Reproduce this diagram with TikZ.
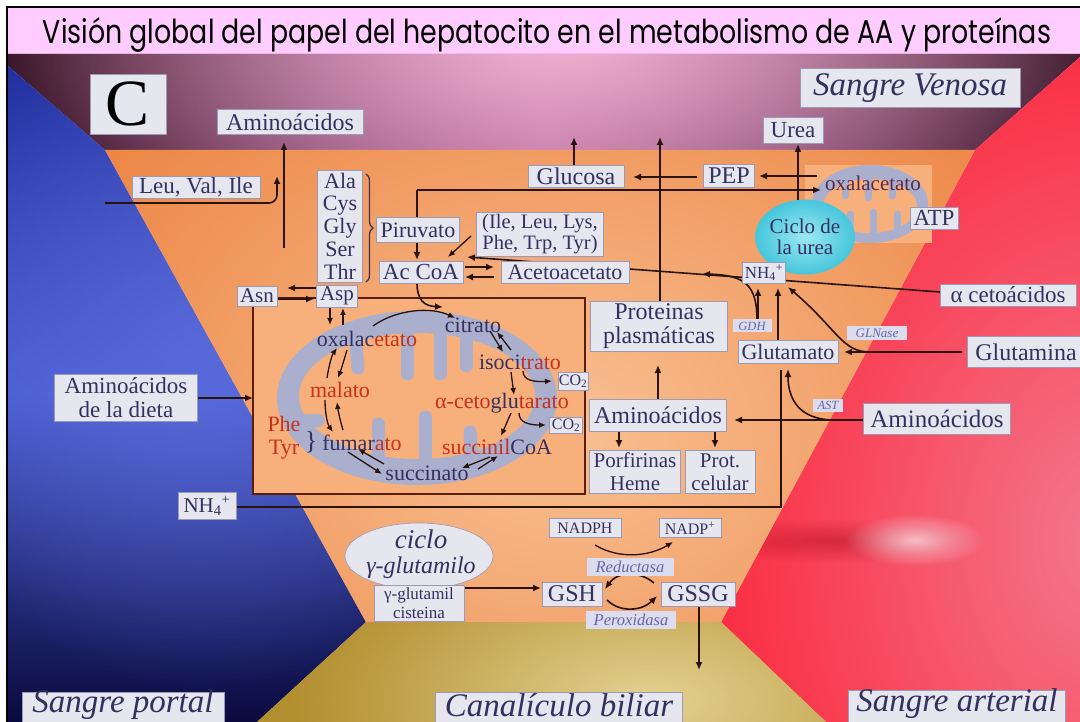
\documentclass[tikz,border=0pt]{standalone}
\usepackage{fontspec}
\setmainfont{Liberation Serif}
\newfontfamily\titlefont{Poppins}
\usetikzlibrary{arrows.meta,calc,fadings,shapes.geometric,decorations.pathreplacing}

\newcommand\fsz[2]{\fontsize{#1pt}{#2pt}\selectfont}

% palette
\definecolor{titlepink}{HTML}{FFCCFF}
\definecolor{venDark}{HTML}{2B0A1C}
\definecolor{venMid}{HTML}{A8558E}
\definecolor{venGlow}{HTML}{F0B2D2}
\definecolor{porTop}{HTML}{22309E}
\definecolor{porMid}{HTML}{4A5ED2}
\definecolor{porBot}{HTML}{0A0A3E}
\definecolor{porGlow}{HTML}{6070E0}
\definecolor{artRed}{HTML}{FD1A30}
\definecolor{artPink}{HTML}{F28A9E}
\definecolor{artDark}{HTML}{A8081A}
\definecolor{bileGold}{HTML}{B28E2E}
\definecolor{bileGlow}{HTML}{E4D292}
\definecolor{hepOrange}{HTML}{EC8240}
\definecolor{hepLight}{HTML}{F9C194}
\definecolor{roomfill}{HTML}{F7B07C}
\definecolor{roomline}{HTML}{5A1E0E}
\definecolor{mitogray}{HTML}{A9AFCC}
\definecolor{boxfill}{HTML}{E6E6EF}
\definecolor{boxline}{HTML}{9A9AB6}
\definecolor{enzfill}{HTML}{DCDCEE}
\definecolor{enzink}{HTML}{6666A6}
\definecolor{ink}{HTML}{34305F}
\definecolor{tcared}{HTML}{C6301F}
\definecolor{wirecol}{HTML}{28130F}
\definecolor{cyanIn}{HTML}{9CE8F2}
\definecolor{cyanOut}{HTML}{46C6DC}
\definecolor{oxbrown}{HTML}{5A2A4A}

\tikzfading[name=glow, inner color=transparent!0, outer color=transparent!100]

\tikzset{
  bx/.style={draw=boxline, line width=0.6pt, fill=boxfill, text=ink, inner sep=1pt, align=center},
  enz/.style={fill=enzfill, text=enzink, inner sep=1pt, font=\itshape\fsz{12.5}{13}},
  tca/.style={inner sep=0pt, font=\fsz{22}{23}, align=center},
  wireline/.style={draw=wirecol, line width=1.6pt},
  arr/.style={wireline, -{Latex[length=8pt,width=7pt]}},
  sarr/.style={draw=wirecol, line width=1.3pt, -{Latex[length=7pt,width=6pt]}},
  crista/.style={draw=mitogray, line cap=round},
  place/.style={text=ink, inner sep=0pt, font=\itshape\fsz{33}{33}},
}

\begin{document}
\begin{tikzpicture}[x=1pt,y=-1pt]
\useasboundingbox (0,0) rectangle (1080,722);
\fill[white] (0,0) rectangle (1080,722);

% ---------- title band ----------
\fill[titlepink] (8,8) rectangle (1080,54);

% ---------- blood compartments ----------
% venous blood (top)
\shade[left color=venDark, right color=venDark, middle color=venMid]
  (8,54) -- (1080,54) -- (1080,57) -- (975,150) -- (105,150) -- (8,66) -- cycle;
\begin{scope}
  \clip (8,54) -- (1080,54) -- (1080,57) -- (975,150) -- (105,150) -- (8,66) -- cycle;
  \fill[venGlow, path fading=glow] (560,40) ellipse [x radius=600, y radius=240];
\end{scope}

% portal blood (left)
\shade[top color=porTop, bottom color=porBot, middle color=porMid]
  (8,66) -- (105,150) -- (366,622) -- (257,722) -- (8,722) -- cycle;
\begin{scope}
  \clip (8,66) -- (105,150) -- (366,622) -- (257,722) -- (8,722) -- cycle;
  \fill[porGlow, opacity=0.7, path fading=glow] (200,350) ellipse [x radius=300, y radius=340];
\end{scope}

% arterial blood (right)
\fill[artRed] (1080,57) -- (975,150) -- (721,622) -- (826,722) -- (1080,722) -- cycle;
\begin{scope}
  \clip (1080,57) -- (975,150) -- (721,622) -- (826,722) -- (1080,722) -- cycle;
  \fill[artPink, opacity=0.85, path fading=glow] (1110,540) ellipse [x radius=500, y radius=640];
  \fill[artDark, opacity=0.45, path fading=glow] (835,541) ellipse [x radius=150, y radius=22];
  \fill[white!55!artPink, opacity=0.9, path fading=glow] (915,540) ellipse [x radius=70, y radius=26];
\end{scope}

% bile canaliculus (bottom)
\fill[bileGold] (366,622) -- (721,622) -- (826,722) -- (257,722) -- cycle;
\begin{scope}
  \clip (366,622) -- (721,622) -- (826,722) -- (257,722) -- cycle;
  \fill[bileGlow, path fading=glow] (650,700) ellipse [x radius=360, y radius=170];
\end{scope}

% hepatocyte (centre)
\fill[hepOrange] (105,150) -- (975,150) -- (721,622) -- (366,622) -- cycle;
\begin{scope}
  \clip (105,150) -- (975,150) -- (721,622) -- (366,622) -- cycle;
  \fill[hepLight, path fading=glow] (560,430) ellipse [x radius=620, y radius=480];
\end{scope}

% frame
\draw[black, line width=2.4pt] (7,722) -- (7,7) -- (1080,7);

\node[inner sep=0pt, text=black] (title) at (547,35)
  {\resizebox{1008pt}{26pt}{\titlefont Visión global del papel del hepatocito en el metabolismo de AA y proteínas}};

% ---------- mitochondrial matrix compartment ----------
\node[draw=roomline, line width=1.4pt, fill=roomfill, minimum width=332pt,
      minimum height=196pt, inner sep=0pt] (matrixbox) at (419,396) {};
\fill[mitogray] (417,398) ellipse [x radius=140, y radius=87];
\fill[roomfill] (417,396) ellipse [x radius=118, y radius=63];
\begin{scope}[crista, line width=13pt]
  \draw (355,333) -- (358,368);
  \draw (407,330) -- (407,374);
  \draw (440,330) -- (440,374);
  \draw (466,333) -- (466,366);
  \draw (378,466) -- (378,424);
  \draw (425,468) -- (425,417);
  \draw (472,462) -- (470,432);
  \draw (292,420) -- (318,420);
\end{scope}

% small mitochondrion near the urea cycle
\node[fill=roomfill, minimum width=127pt, minimum height=78pt, inner sep=0pt] (mitoR) at (868.5,204) {};
\fill[mitogray] (870,204) ellipse [x radius=58, y radius=39];
\fill[roomfill] (870,206) ellipse [x radius=47, y radius=27];
\begin{scope}[crista, line width=7pt]
  \draw (845,182) -- (845,196);
  \draw (868,180) -- (868,198);
  \draw (892,182) -- (892,196);
  \draw (850,231) -- (850,214);
  \draw (873,233) -- (873,212);
  \draw (897,230) -- (897,214);
\end{scope}

\node[ellipse, inner color=cyanIn, outer color=cyanOut, minimum width=90pt, minimum height=75pt,
      text=ink, font=\fsz{21}{21}, align=center, inner sep=0pt] (ureaCycle) at (805,237) {Ciclo de\\la urea};

% ---------- free ends of connectors ----------
\coordinate (aaFoot) at (284,248);
\coordinate (aaHead) at (284,142);
\coordinate (leuIn) at (105,203);
\coordinate (leuHead) at (277,176);
\coordinate (upHead) at (574,137);
\coordinate (ureaFoot) at (798,200);
\coordinate (oxOut) at (817,176);
\coordinate (pyrCorner) at (417,190);
\coordinate (oxIn) at (821,190);
\coordinate (ileTail) at (471,236);
\coordinate (ileHead) at (448,257);
\coordinate (ketoHead) at (467,257);
\coordinate (gdhFoot) at (757,320);
\coordinate (gdhHead) at (702,274);
\coordinate (nhA) at (758,288);
\coordinate (nhB) at (778,288);
\coordinate (nhC) at (788,287);
\coordinate (glnJoin) at (870,352);
\coordinate (astJoin) at (832,420);
\coordinate (astHead) at (788,369);
\coordinate (porfHead) at (619,448);
\coordinate (protcelHead) at (715,448);
\coordinate (gluDrop) at (781,370);
\coordinate (gluCorner) at (781,507);
\coordinate (cistOut) at (464,588);
\coordinate (gshIn) at (541,588);

% ---------- connectors ----------
\draw[arr] (aaFoot) -- (aaHead);
\draw[arr, rounded corners=8pt] (leuIn) -| (leuHead);
\draw[arr] (574,165) -- (upHead);
\draw[arr] (660,301) -- (660,137);
\draw[arr] (ureaFoot) -- (798,144);
\draw[arr] (oxOut) -- (759,176);
\draw[arr] (697,177) -- (633,177);
\draw[arr] (pyrCorner) -- (oxIn);
\draw[arr] (pyrCorner) -- (pyrCorner |- 0,260);
\draw[sarr] (ileTail) -- (ileHead);
\draw[arr] (465,267) -- (494,267);
\draw[arr] (494,277) -- (465,277);
\draw[arr] (940,292) -- (ketoHead);
\draw[arr] (gdhFoot) .. controls (757,285) and (745,275) .. (gdhHead);
\draw[arr] (758,320) -- (nhA);
\draw[arr] (778,340) -- (nhB);
\draw[arr] (glnJoin) .. controls (842,352) and (838,330) .. (nhC);
\draw[arr] (962,352) -- (844,352);
\draw[arr] (astJoin) .. controls (800,419) and (788,400) .. (astHead);
\draw[arr] (864,420) -- (734,420);
\draw[arr] (658,399) -- (658,365);
\draw[arr] (porfHead |- 0,431) -- (porfHead);
\draw[arr] (protcelHead |- 0,431) -- (protcelHead);
\draw[wireline] (gluDrop) -- (gluCorner) -- (236,507);
\draw[arr] (198,398) -- (253,398);
\draw[arr] (316,288) -- (287,288);
\draw[arr] (278,299) -- (314,299);
\draw[sarr] (330,308) -- (330,325);
\draw[sarr] (343,325) -- (343,308);
\draw[arr] (417,283) .. controls (417,300) and (424,306) .. (443,307);

% Krebs cycle
\draw[sarr] (373,326) .. controls (395,310) and (430,306) .. (455,318);
\draw[sarr] (490,331) -- (503,352);
\draw[sarr] (511,350) -- (497,332);
\draw[sarr] (511,372) -- (514,395);
\draw[sarr] (523,371) .. controls (523,381) and (535,382) .. (552,381);
\draw[sarr] (511,413) -- (501,436);
\draw[sarr] (519,413) .. controls (519,423) and (530,425) .. (546,425);
\draw[sarr] (490,457) -- (462,468);
\draw[sarr] (478,469) -- (498,456);
\draw[sarr] (348,452) -- (382,474);
\draw[sarr] (384,464) -- (358,449);
\draw[sarr] (325,400) .. controls (325,415) and (328,425) .. (333,432);
\draw[sarr] (343,430) .. controls (340,420) and (338,410) .. (337,402);
\draw[sarr] (327,378) .. controls (329,365) and (332,355) .. (337,348);
\draw[sarr] (347,350) .. controls (344,360) and (341,370) .. (338,378);

% glutathione
\draw[arr] (cistOut) -- (gshIn);
\draw[arr] (654,583) .. controls (640,571) and (618,571) .. (605,589);
\draw[arr] (607,600) .. controls (620,613) and (642,611) .. (657,596);
\draw[sarr] (595,545) .. controls (620,560) and (650,556) .. (673,542);
\draw[arr] (699,606) -- (699,670);

% ---------- labels ----------
\node[bx, minimum width=76pt, minimum height=60pt, font=\fsz{66}{66}, text=black] (letterC) at (128,104) {C};
\node[bx, minimum width=146pt, minimum height=25pt, font=\fsz{24}{25}] (aaTop) at (290,122) {Aminoácidos};
\node[bx, minimum width=220pt, minimum height=39pt, font=\itshape\fsz{33}{33}] (venosa) at (910,88) {Sangre Venosa};
\node[bx, minimum width=60pt, minimum height=26pt, font=\fsz{23}{24}] (urea) at (793,130) {Urea};
\node[bx, minimum width=128pt, minimum height=22pt, font=\fsz{23}{24}] (leu) at (196,187) {Leu, Val, Ile};
\node[bx, minimum width=45pt, minimum height=112pt, font=\fsz{22}{22.8}] (alaList) at (340,226) {Ala\\Cys\\Gly\\Ser\\Thr};
\draw[ink, line width=1.2pt, decorate, decoration={brace, amplitude=7pt}] (366,174) -- (366,282);
\node[bx, minimum width=83pt, minimum height=25pt, font=\fsz{22}{23}] (piruvato) at (418,230) {Piruvato};
\node[bx, minimum width=127pt, minimum height=44pt, font=\fsz{20.5}{20.5}] (ileList) at (540,234) {(Ile, Leu, Lys,\\Phe, Trp, Tyr)};
\node[bx, minimum width=84pt, minimum height=22pt, font=\fsz{23}{24}] (acCoA) at (421,272) {Ac CoA};
\node[bx, minimum width=128pt, minimum height=22pt, font=\fsz{22}{23}] (acetoac) at (565,272) {Acetoacetato};
\node[bx, minimum width=40pt, minimum height=20pt, font=\fsz{21}{22}] (asn) at (257,296) {Asn};
\node[bx, minimum width=41pt, minimum height=22pt, font=\fsz{21}{22}] (asp) at (337,296) {Asp};
\node[bx, minimum width=96pt, minimum height=22pt, font=\fsz{24}{25}] (glucosa) at (576,176) {Glucosa};
\node[bx, minimum width=51pt, minimum height=23pt, font=\fsz{24}{25}] (pep) at (729,176) {PEP};
\node[text=oxbrown, font=\fsz{21}{22}, inner sep=0pt] (oxR) at (873,183) {oxalacetato};
\node[bx, minimum width=48pt, minimum height=22pt, font=\fsz{23}{24}] (atp) at (934,218) {ATP};
\node[bx, minimum width=43pt, minimum height=21pt, font=\fsz{17}{18}] (nhTop) at (764,273) {NH\textsubscript{4}\textsuperscript{+}};
\node[bx, minimum width=136pt, minimum height=22pt, font=\fsz{23}{24}] (ceto) at (1008,295) {α cetoácidos};
\node[bx, minimum width=137pt, minimum height=50pt, font=\fsz{24}{24}] (prot) at (659,326) {Proteinas\\plasmáticas};
\node[enz, minimum width=39pt, minimum height=13pt] (gdh) at (752,326) {GDH};
\node[enz, minimum width=60pt, minimum height=14pt, font=\itshape\fsz{13}{13}] (glnase) at (877,333) {GLNase};
\node[bx, minimum width=100pt, minimum height=23pt, font=\fsz{22}{23}] (glutamato) at (788,352) {Glutamato};
\node[bx, minimum width=118pt, minimum height=31pt, font=\fsz{24}{25}] (glutamina) at (1026,352) {Glutamina};
\node[bx, minimum width=137pt, minimum height=32pt, font=\fsz{24}{25}] (aminoM) at (658,415) {Aminoácidos};
\node[bx, minimum width=147pt, minimum height=31pt, font=\fsz{25}{26}] (aminoR) at (937,419) {Aminoácidos};
\node[enz, minimum width=30pt, minimum height=13pt] (ast) at (828,405) {AST};
\node[bx, minimum width=91pt, minimum height=43pt, font=\fsz{21}{23}] (porf) at (635,472) {Porfirinas\\Heme};
\node[bx, minimum width=70pt, minimum height=43pt, font=\fsz{21}{23}] (protcel) at (720,472) {Prot.\\celular};
\node[bx, minimum width=143pt, minimum height=47pt, font=\fsz{23}{24}] (dieta) at (126,398) {Aminoácidos\\de la dieta};
\node[bx, minimum width=58pt, minimum height=27pt, font=\fsz{21}{22}] (nhLeft) at (207,506) {NH\textsubscript{4}\textsuperscript{+}};

% Krebs cycle intermediates
\node[tca] (oxTCA) at (367,339) {\color{ink}oxalac\color{tcared}etato};
\node[tca, text=ink] (citrato) at (473,325) {citrato};
\node[tca] (isocitrato) at (520,362) {\color{ink}isoci\color{tcared}trato};
\node[tca, text=tcared] (malato) at (340,390) {malato};
\node[tca] (akg) at (502,403) {\color{tcared}α-ceto\color{ink}glu\color{tcared}tarato};
\node[tca] (fumarato) at (362,443) {\color{ink}fumar\color{tcared}ato};
\node[tca] (succoa) at (497,447) {\color{tcared}succinil\color{ink}CoA};
\node[tca, text=ink] (succinato) at (427,473) {succinato};
\node[tca, text=tcared] (phetyr) at (284,438) {Phe\\Tyr};
\node[text=ink, inner sep=0pt, font=\fsz{26}{26}] (phebrace) at (311,442) {\}};
\node[bx, minimum width=30pt, minimum height=18pt, font=\fsz{16}{16}] (co2a) at (573,381) {CO\textsubscript{2}};
\node[bx, minimum width=33pt, minimum height=16pt, font=\fsz{16}{16}] (co2b) at (566,425) {CO\textsubscript{2}};

% gamma-glutamyl cycle and glutathione
\node[ellipse, fill=boxfill, draw=boxline, line width=0.6pt, minimum width=148pt, minimum height=66pt,
      inner sep=0pt] (ggCycle) at (419,556) {};
\node[text=ink, inner sep=0pt, font=\itshape\fsz{27}{27}] (ggCiclo) at (421,539) {ciclo};
\node[text=ink, inner sep=0pt, font=\itshape\fsz{24}{24}] (ggName) at (421,568) {γ-glutamilo};
\node[bx, minimum width=90pt, minimum height=36pt, font=\fsz{17}{19}] (cist) at (419,603) {γ-glutamil\\cisteina};
\node[bx, minimum width=60pt, minimum height=24pt, font=\fsz{24}{25}] (gsh) at (572,594) {GSH};
\node[bx, minimum width=74pt, minimum height=24pt, font=\fsz{24}{25}] (gssg) at (698,594) {GSSG};
\node[bx, minimum width=72pt, minimum height=19pt, font=\fsz{16}{17}] (nadph) at (585,528) {NADPH};
\node[bx, minimum width=62pt, minimum height=19pt, font=\fsz{16}{17}] (nadp) at (690,528) {NADP\textsuperscript{+}};
\node[enz, minimum width=87pt, minimum height=18pt, font=\itshape\fsz{16.5}{17}] (reduct) at (630,567) {Reductasa};
\node[enz, minimum width=90pt, minimum height=18pt, font=\itshape\fsz{16.5}{17}] (perox) at (631,620) {Peroxidasa};

% compartment names
\node[bx, minimum width=202pt, minimum height=40pt] (portalBox) at (123,712) {};
\node[place] (portal) at (123,705) {Sangre portal};
\node[bx, minimum width=247pt, minimum height=40pt] (biliarBox) at (559,712) {};
\node[place] (biliar) at (559,705) {Canalículo biliar};
\node[bx, minimum width=217pt, minimum height=42pt] (arterialBox) at (957,711) {};
\node[place] (arterial) at (957,704) {Sangre arterial};
\end{tikzpicture}
\end{document}
